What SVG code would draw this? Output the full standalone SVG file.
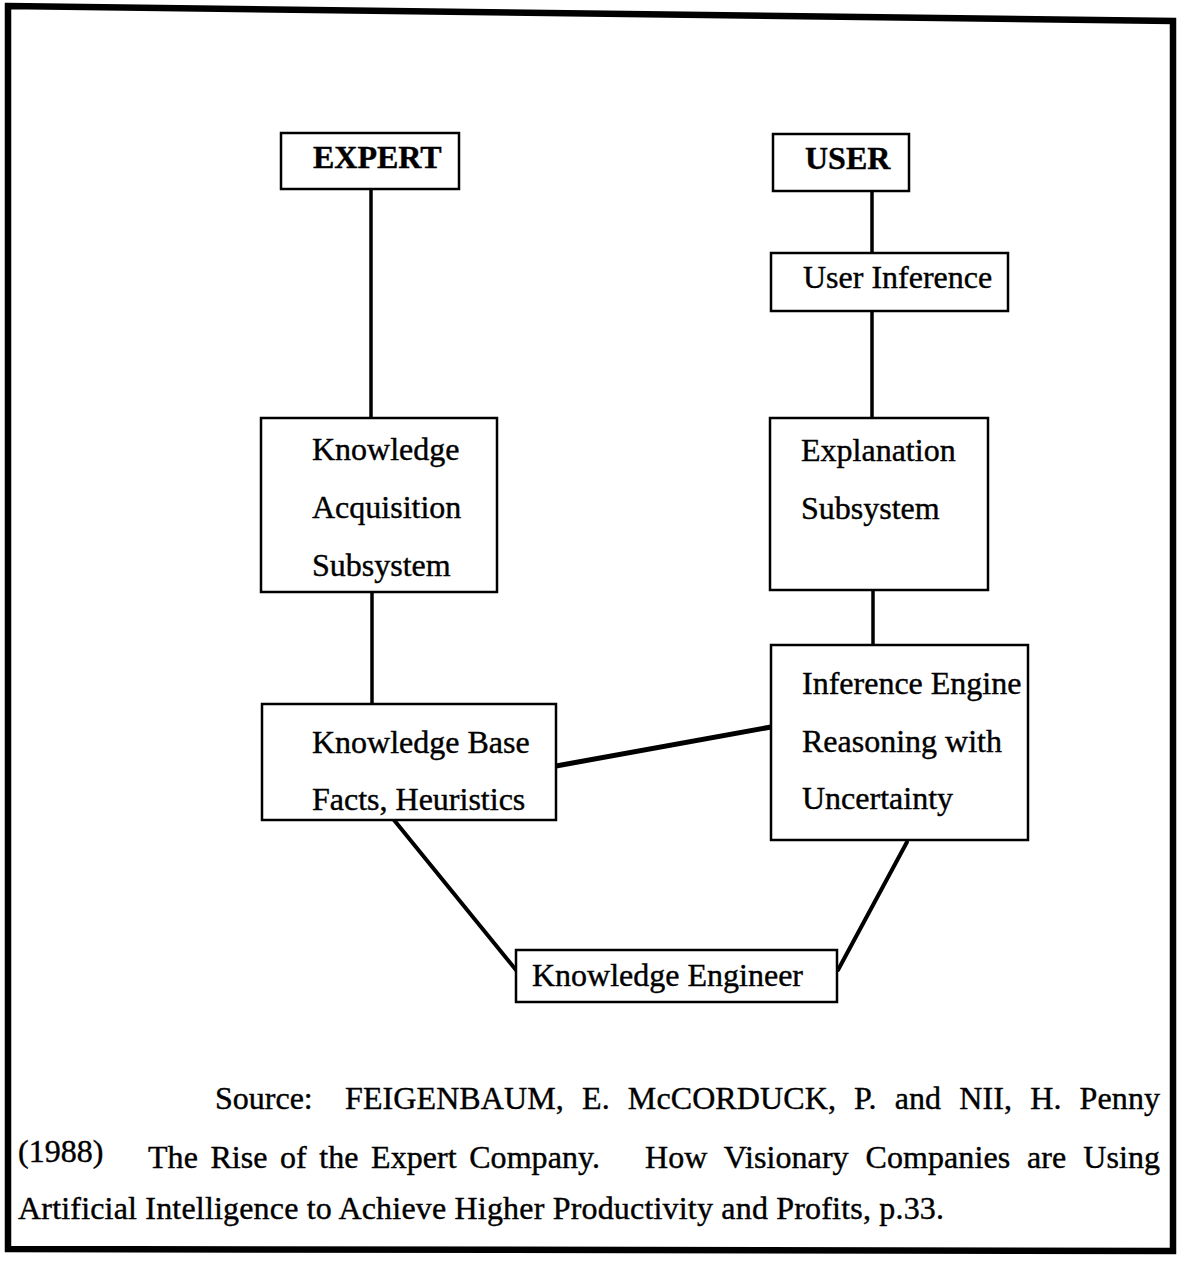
<svg xmlns="http://www.w3.org/2000/svg" width="1181" height="1262" viewBox="0 0 1181 1262">
<style>
  .box { fill: #ffffff; stroke: #000000; stroke-width: 2.5; }
  .t { font-family: "Liberation Serif", "Times New Roman", serif; font-size: 32px; fill: #000000; stroke: #000000; stroke-width: 0.4; }
  .b { font-weight: bold; }
  .c { stroke: #000000; stroke-width: 3.5; fill: none; stroke-linecap: round; }
  .frame { fill: none; stroke: #000000; stroke-width: 6.5; stroke-linejoin: miter; }
</style>
<rect x="0" y="0" width="1181" height="1262" fill="#ffffff"/>
<path class="frame" d="M8,6 L1173,21 L1173,1251 L8,1249 Z"/>

<g id="connectors">
  <line class="c" x1="371" y1="190" x2="371" y2="418"/>
  <line class="c" x1="872" y1="191" x2="872" y2="253"/>
  <line class="c" x1="872" y1="311" x2="872" y2="418"/>
  <line class="c" x1="372" y1="592" x2="372" y2="704"/>
  <line class="c" x1="873" y1="590" x2="873" y2="645"/>
  <line class="c" x1="556" y1="766" x2="771" y2="727" style="stroke-width:5"/>
  <line class="c" x1="394" y1="820" x2="516" y2="970" style="stroke-width:4"/>
  <line class="c" x1="838" y1="970" x2="907" y2="842" style="stroke-width:4"/>
</g>

<g id="expert">
  <rect class="box" x="281" y="133" width="178" height="56"/>
  <text class="t b" x="313" y="168">EXPERT</text>
</g>
<g id="user">
  <rect class="box" x="773" y="134" width="136" height="57"/>
  <text class="t b" x="805" y="169">USER</text>
</g>
<g id="user-inference">
  <rect class="box" x="771" y="253" width="237" height="58"/>
  <text class="t" x="803" y="288">User Inference</text>
</g>
<g id="knowledge-acquisition">
  <rect class="box" x="261" y="418" width="236" height="174"/>
  <text class="t" x="312" y="460">Knowledge</text>
  <text class="t" x="312" y="518">Acquisition</text>
  <text class="t" x="312" y="576">Subsystem</text>
</g>
<g id="explanation">
  <rect class="box" x="770" y="418" width="218" height="172"/>
  <text class="t" x="801" y="461">Explanation</text>
  <text class="t" x="801" y="519">Subsystem</text>
</g>
<g id="inference-engine">
  <rect class="box" x="771" y="645" width="257" height="195"/>
  <text class="t" x="802" y="694">Inference Engine</text>
  <text class="t" x="802" y="752">Reasoning with</text>
  <text class="t" x="802" y="809">Uncertainty</text>
</g>
<g id="knowledge-base">
  <rect class="box" x="262" y="704" width="294" height="116"/>
  <text class="t" x="312" y="753">Knowledge Base</text>
  <text class="t" x="312" y="810">Facts, Heuristics</text>
</g>
<g id="knowledge-engineer">
  <rect class="box" x="516" y="950" width="321" height="52"/>
  <text class="t" x="532" y="986">Knowledge Engineer</text>
</g>

<g id="source">
  <text class="t" x="215" y="1109">Source:</text>
  <text class="t" x="345" y="1109" word-spacing="10" textLength="815" lengthAdjust="spacing">FEIGENBAUM, E. McCORDUCK, P. and NII, H. Penny</text>
  <text class="t" x="18" y="1162">(1988)</text>
  <text class="t" x="148" y="1168" word-spacing="4.4" textLength="452" lengthAdjust="spacing">The Rise of the Expert Company.</text>
  <text class="t" x="645" y="1168" word-spacing="8.8" textLength="515" lengthAdjust="spacing">How Visionary Companies are Using</text>
  <text class="t" x="18" y="1219" textLength="926" lengthAdjust="spacing">Artificial Intelligence to Achieve Higher Productivity and Profits, p.33.</text>
</g>
</svg>
